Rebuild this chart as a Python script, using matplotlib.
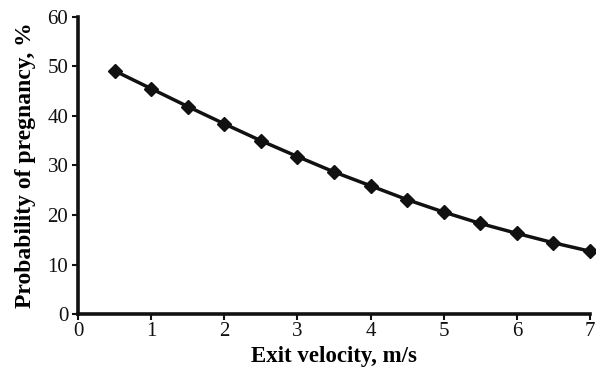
import matplotlib
matplotlib.use("Agg")
import matplotlib.pyplot as plt

# exit velocity (m/s) vs probability of pregnancy (%)
velocity = [0.5, 1.0, 1.5, 2.0, 2.5, 3.0, 3.5, 4.0, 4.5, 5.0, 5.5, 6.0, 6.5, 7.0]
probability = [49.1, 45.5, 41.9, 38.4, 35.0, 31.8, 28.7, 25.9, 23.1, 20.6, 18.3, 16.3, 14.4, 12.7]

plt.rcParams["font.family"] = ["Liberation Serif", "DejaVu Serif"]

fig = plt.figure(figsize=(5.96, 3.74), dpi=100)
ax = fig.add_axes([0.131, 0.160, 0.859, 0.795])

ax.plot(velocity, probability, color="#111111", lw=2.5, marker="D", ms=7,
        markerfacecolor="#111111", markeredgecolor="#111111", clip_on=False)

ax.set_xlim(0, 7)
ax.set_ylim(0, 60)
ax.set_xticks(range(0, 8))
ax.set_yticks(range(0, 61, 10))

for side in ("top", "right"):
    ax.spines[side].set_visible(False)
for side in ("left", "bottom"):
    ax.spines[side].set_linewidth(2.6)
    ax.spines[side].set_color("#111111")

ax.tick_params(axis="both", direction="out", length=4, width=1.5,
               labelsize=15, colors="#111111")
ax.tick_params(axis="y", pad=3)
ax.tick_params(axis="x", pad=2)

ax.set_xlabel("Exit velocity, m/s", fontsize=16.5, fontweight="bold", labelpad=3)
ax.set_ylabel("Probability of pregnancy, %", fontsize=17, fontweight="bold", labelpad=8)

fig.savefig("out.png", dpi=100)
